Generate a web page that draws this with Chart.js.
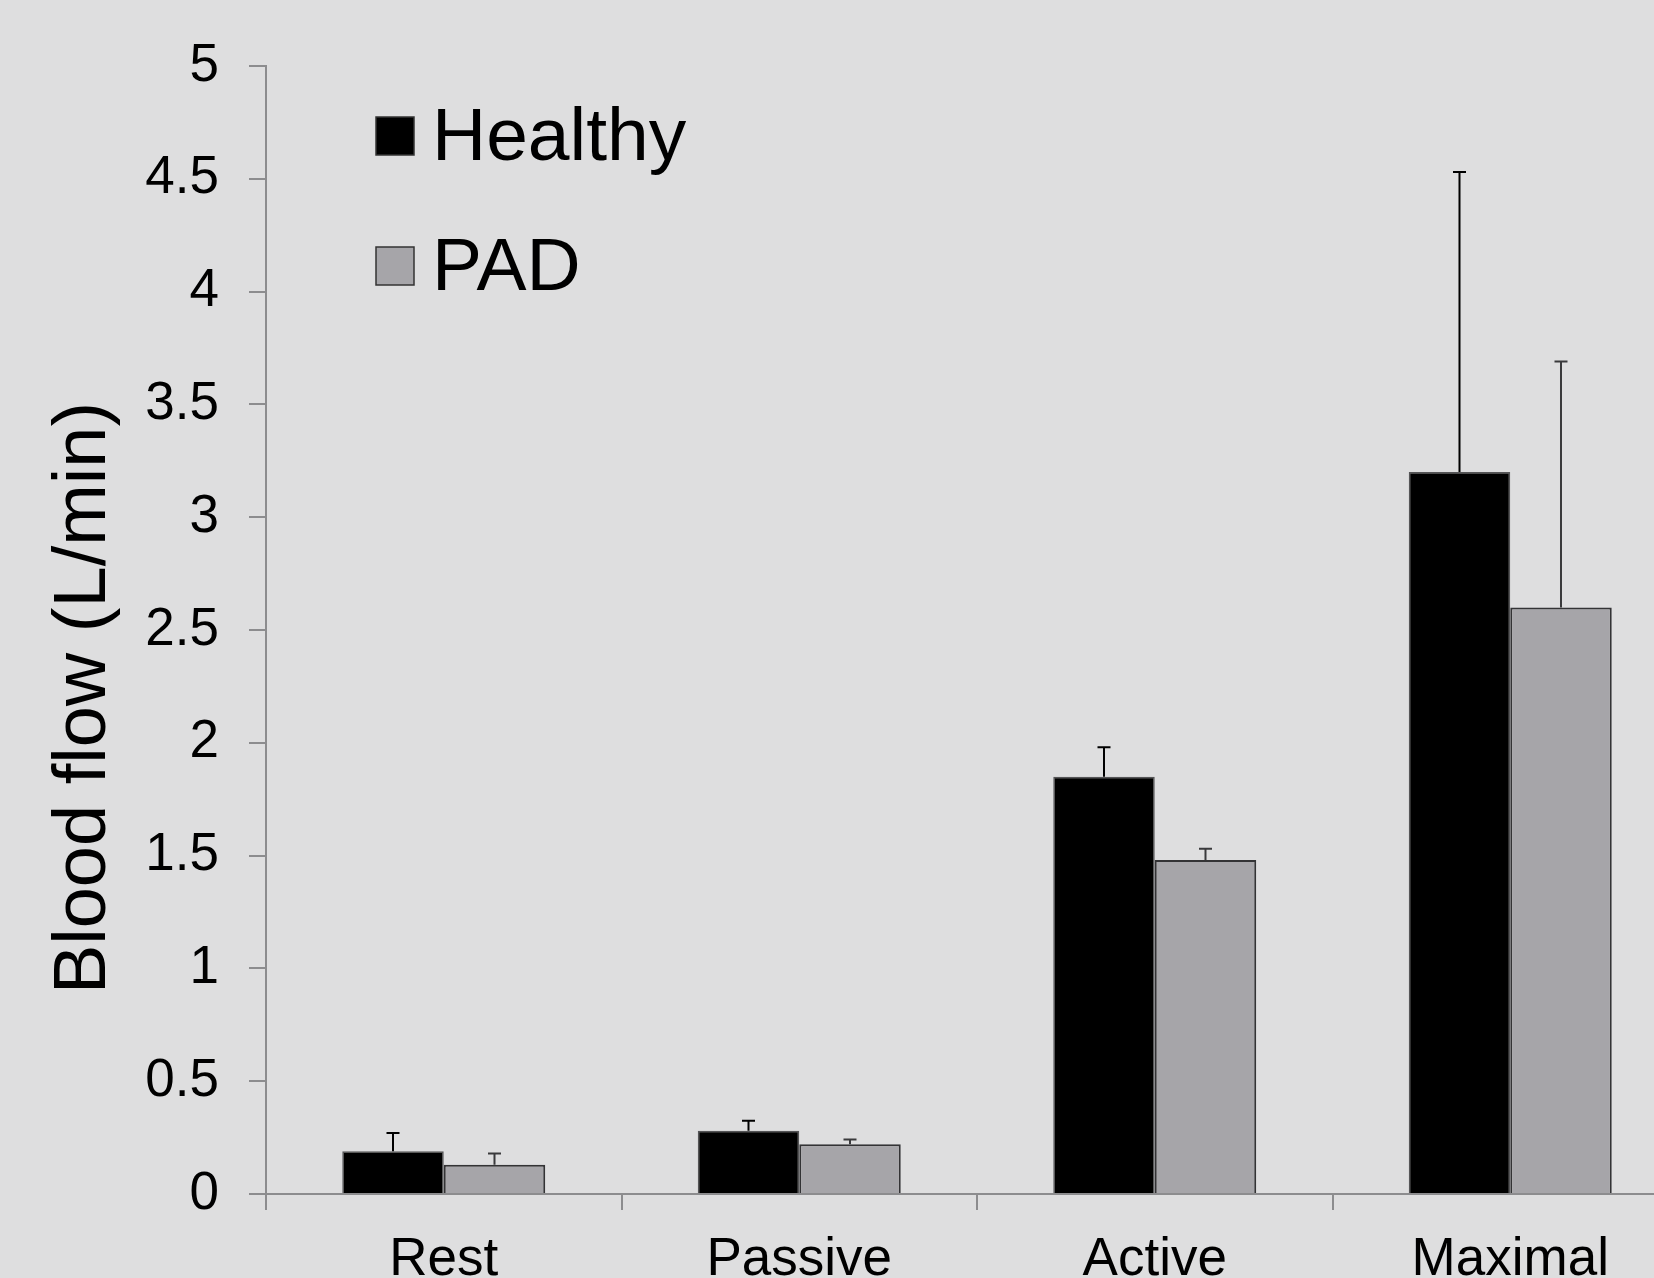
<!DOCTYPE html>
<html>
<head>
<meta charset="utf-8">
<script src="https://cdn.jsdelivr.net/npm/chart.js@4/dist/chart.umd.min.js"></script>
<style>
  html, body { margin: 0; padding: 0; background: #dededf; overflow: hidden; }
  #wrap { position: relative; width: 1654px; height: 1278px; overflow: hidden; background: #dededf; }
  #c { position: absolute; left: 0; top: 0; }
</style>
</head>
<body>
<div id="wrap"><canvas id="c" width="1700" height="1320" style="width:1700px;height:1320px"></canvas></div>
<script>
// Blood flow by condition, mean with upward SD whiskers
const categories = ['Rest', 'Passive', 'Active', 'Maximal'];
const healthy = [0.19, 0.28, 1.85, 3.20];
const healthyErr = [0.08, 0.045, 0.13, 1.33];
const pad = [0.13, 0.22, 1.48, 2.60];
const padErr = [0.05, 0.022, 0.05, 1.09];
const yTickLabels = ['0', '0.5', '1', '1.5', '2', '2.5', '3', '3.5', '4', '4.5', '5'];
const yTitle = 'Blood flow (L/min)';

const FONT = '"Liberation Sans", Arial, Helvetica, sans-serif';
const AXIS_GREY = '#8c8c8e';

// Whiskers drawn from each bar top up to value + error
const errorBars = {
  id: 'errorBars',
  afterDatasetsDraw(chart) {
    const ctx = chart.ctx;
    const y = chart.scales.y;
    chart.data.datasets.forEach((ds, di) => {
      const meta = chart.getDatasetMeta(di);
      meta.data.forEach((bar, i) => {
        const top = y.getPixelForValue(ds.data[i] + ds.errors[i]);
        ctx.save();
        ctx.strokeStyle = ds.whiskerColor;
        ctx.lineWidth = 2;
        ctx.beginPath();
        ctx.moveTo(bar.x, bar.y);
        ctx.lineTo(bar.x, top);
        ctx.moveTo(bar.x - 6.5, top);
        ctx.lineTo(bar.x + 6.5, top);
        ctx.stroke();
        ctx.restore();
      });
    });
  }
};

// Stacked legend in the upper-left of the plot, plus rotated y title
const decorations = {
  id: 'decorations',
  afterDraw(chart) {
    const ctx = chart.ctx;
    const area = chart.chartArea;
    ctx.save();
    chart.data.datasets.forEach((ds, di) => {
      const bx = area.left + 110;
      const by = area.top + 51 + di * 130;
      ctx.fillStyle = ds.backgroundColor;
      ctx.fillRect(bx, by, 38, 38);
      ctx.strokeStyle = '#333';
      ctx.lineWidth = 1.5;
      ctx.strokeRect(bx, by, 38, 38);
      ctx.fillStyle = '#000';
      ctx.font = '75px ' + FONT;
      ctx.textAlign = 'left';
      ctx.textBaseline = 'alphabetic';
      ctx.fillText(ds.label, bx + 56, by + 43);
    });
    ctx.translate(105, 698);
    ctx.rotate(-Math.PI / 2);
    ctx.font = '74px ' + FONT;
    ctx.textAlign = 'center';
    ctx.textBaseline = 'alphabetic';
    ctx.fillStyle = '#000';
    ctx.fillText(yTitle, 0, 0);
    ctx.restore();
  }
};

new Chart(document.getElementById('c'), {
  type: 'bar',
  data: {
    labels: categories,
    datasets: [
      {
        label: 'Healthy', data: healthy, errors: healthyErr,
        backgroundColor: '#000000', borderColor: '#555557', borderWidth: 1.5,
        whiskerColor: '#000000'
      },
      {
        label: 'PAD', data: pad, errors: padErr,
        backgroundColor: '#a6a5a9', borderColor: '#333335', borderWidth: 2,
        whiskerColor: '#3a3a3c'
      }
    ]
  },
  options: {
    responsive: false,
    animation: false,
    devicePixelRatio: 1,
    layout: { padding: { top: 66, right: 12, left: 0, bottom: 0 } },
    plugins: { legend: { display: false }, tooltip: { enabled: false } },
    datasets: { bar: { categoryPercentage: 0.571, barPercentage: 1.0 } },
    scales: {
      x: {
        offset: true,
        afterFit(s) { s.height = 126; },
        border: { display: true, color: AXIS_GREY, width: 2 },
        grid: { drawOnChartArea: false, offset: true, color: AXIS_GREY, lineWidth: 2, tickLength: 16 },
        ticks: { color: '#000', padding: 19, font: { family: FONT, size: 53 }, maxRotation: 0 }
      },
      y: {
        min: 0, max: 5,
        afterFit(s) { s.width = 266; },
        border: { display: true, color: AXIS_GREY, width: 2 },
        grid: { drawOnChartArea: false, color: AXIS_GREY, lineWidth: 2, tickLength: 17 },
        ticks: {
          stepSize: 0.5, color: '#000', padding: 30,
          font: { family: FONT, size: 53 },
          callback: (v, i) => yTickLabels[i]
        }
      }
    }
  },
  plugins: [errorBars, decorations]
});
</script>
</body>
</html>
